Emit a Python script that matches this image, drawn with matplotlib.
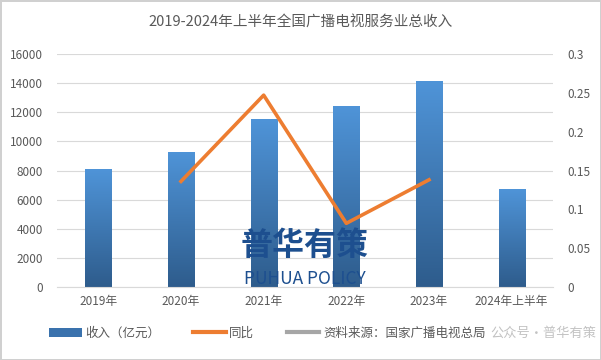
import matplotlib

matplotlib.use("Agg")

import matplotlib.pyplot as plt
import numpy as np
from matplotlib.lines import Line2D
from matplotlib.patches import Patch

plt.rcParams["font.family"] = ["Noto Sans CJK SC", "DejaVu Sans"]

categories = ["2019年", "2020年", "2021年", "2022年", "2023年", "2024年上半年"]
revenue = [8100, 9280, 11530, 12420, 14140, 6720]
yoy = [np.nan, 0.136, 0.247, 0.082, 0.138, np.nan]
left_ticks = list(range(0, 16001, 2000))
right_ticks = [0, 0.05, 0.1, 0.15, 0.2, 0.25, 0.3]
right_labels = ["0", "0.05", "0.1", "0.15", "0.2", "0.25", "0.3"]

title = "2019-2024年上半年全国广播电视服务业总收入"
source = "资料来源：国家广播电视总局"

grey = "#595959"
orange = "#ed7d31"

fig = plt.figure(figsize=(6.01, 3.6), dpi=100)
fig.patch.set_edgecolor("#d0d0d0")
fig.patch.set_linewidth(2)
ax = fig.add_axes([57 / 601, 1 - 287 / 360, 496 / 601, 233 / 360])
ax2 = ax.twinx()

x = np.arange(len(categories))
bars = ax.bar(x, revenue, width=0.315, color="none", zorder=2)

# gradient fill inside each bar
grad = np.linspace(0, 1, 256).reshape(-1, 1)
cmap = matplotlib.colors.LinearSegmentedColormap.from_list("bluegrad", ["#2e5c8c", "#4f94d8"])
for b in bars:
    im = ax.imshow(
        grad,
        extent=[b.get_x(), b.get_x() + b.get_width(), 0, b.get_height()],
        origin="lower",
        aspect="auto",
        cmap=cmap,
        zorder=2,
    )
    im.set_clip_path(b)

ax.set_xlim(-0.5, len(categories) - 0.5)
ax.set_ylim(0, 16000)
ax.set_yticks(left_ticks)
ax.set_xticks(x)
ax.set_xticklabels(categories)
ax.grid(axis="y", color="#d9d9d9", linewidth=0.8, zorder=0)
ax.set_axisbelow(True)

ax2.plot(x, yoy, color=orange, linewidth=2.6, zorder=3)
ax2.set_ylim(0, 0.3)
ax2.set_yticks(right_ticks)
ax2.set_yticklabels(right_labels)

for a in (ax, ax2):
    for s in a.spines.values():
        s.set_visible(False)
    a.tick_params(length=0, labelsize=8.5, colors=grey, pad=10)
ax.spines["bottom"].set_visible(True)
ax.spines["bottom"].set_color("#d9d9d9")
ax.tick_params(axis="x", pad=6)

fig.text(0.5, 1 - 23 / 360, title, ha="center", va="center", fontsize=10.5, color=grey)

# watermark logo
fig.text(305 / 601, 1 - 246 / 360, "普华有策", ha="center", va="center",
         fontsize=23, fontweight="bold", color="#1d4f8f", zorder=10)
fig.text(305 / 601, 1 - 279 / 360, "PUHUA POLICY", ha="center", va="center",
         fontsize=12.5, fontweight="medium", color="#1d4f8f", zorder=10)

handles = [
    Patch(facecolor="#3a72ad", edgecolor="none"),
    Line2D([0], [0], color=orange, linewidth=3),
    Line2D([0], [0], color="#a6a6a6", linewidth=3),
]
labels = ["收入（亿元）", "同比", source]
fig.legend(handles, labels, loc="center", bbox_to_anchor=(0.445, 1 - 333 / 360), ncol=3,
           frameon=False, fontsize=9, labelcolor=grey, handlelength=2.6,
           handletextpad=0.3, columnspacing=2.6)

fig.text(596 / 601, 1 - 333 / 360, "公众号·普华有策", ha="right", va="center",
         fontsize=9.5, color="#9a9a9a", alpha=0.6)

fig.savefig("out.png", dpi=100)
